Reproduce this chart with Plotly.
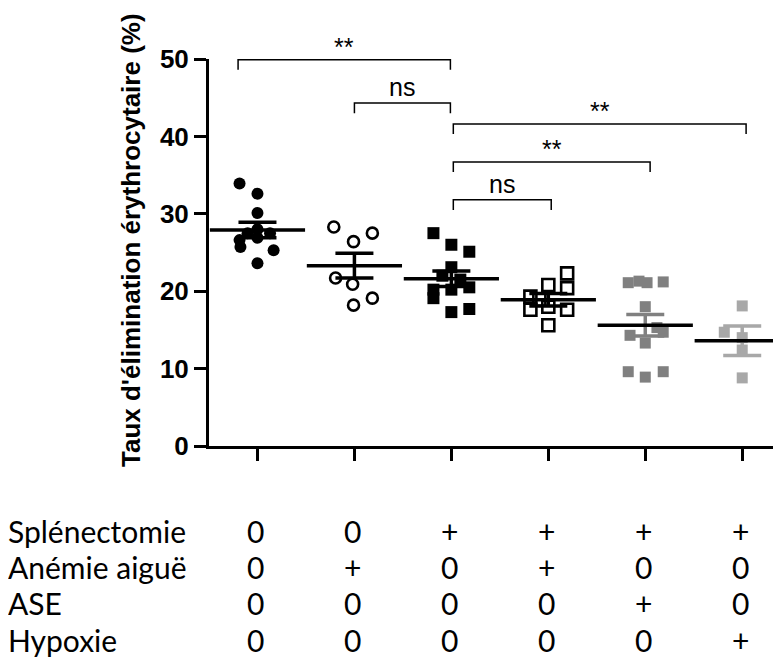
import plotly.graph_objects as go

# ---------------- data ----------------
groups = [1, 2, 3, 4, 5, 6]

g1_vals = [33.9, 32.6, 30.1, 28.0, 27.5, 27.5, 26.9, 26.6, 25.7, 25.3, 23.6]
g1_off = [-1.0, 0.0, 0.0, 0.0, -0.55, 0.7, 0.0, -1.0, -0.95, 0.9, 0.0]

g2_vals = [28.3, 27.5, 26.4, 21.7, 20.9, 19.1, 18.2]
g2_off = [-1.15, 1.0, -0.05, -1.05, -0.1, 1.0, -0.05]

g3_vals = [27.5, 26.0, 25.1, 23.1, 22.0, 21.5, 20.5, 20.2, 20.2, 19.1, 17.7, 17.3]
g3_off = [-1.0, 0.0, 1.0, 0.0, -0.5, 0.5, 1.0, 0.0, -1.0, -1.0, 1.0, 0.0]

g4_vals = [22.3, 20.8, 20.4, 19.3, 18.9, 18.0, 17.6, 17.6, 15.6]
g4_off = [1.05, 0.0, 1.05, -1.0, -0.5, 0.0, -1.0, 1.05, 0.0]

g5_vals = [21.1, 21.3, 21.1, 21.2, 18.0, 15.3, 14.3, 14.7, 13.3, 9.6, 8.9, 9.6]
g5_off = [-0.95, -0.35, 0.1, 1.0, 0.0, 0.65, -0.85, 1.0, 0.0, -0.95, 0.0, 1.0]

g6_vals = [18.1, 14.7, 14.0, 12.4, 8.8]
g6_off = [0.0, -1.0, 0.0, 0.0, 0.0]

means = [27.9, 23.3, 21.6, 18.9, 15.6, 13.6]
sems = [1.0, 1.6, 1.0, 0.8, 1.4, 1.9]

# significance brackets: (x_left, x_right, level, label)
bracket_left = [0.8, 2.0, 3.02, 3.02, 3.02]
bracket_right = [2.99, 2.99, 6.04, 5.05, 4.03]
bracket_level = [49.9, 44.3, 41.6, 36.7, 31.8]
bracket_label = ["**", "ns", "**", "**", "ns"]

row_labels = ["Splénectomie", "Anémie aiguë", "ASE", "Hypoxie"]
table_rows = [
    ["0", "0", "+", "+", "+", "+"],
    ["0", "+", "0", "+", "0", "0"],
    ["0", "0", "0", "0", "+", "0"],
    ["0", "0", "0", "0", "0", "+"],
]

y_ticks = [0, 10, 20, 30, 40, 50]
y_title = "Taux d'élimination érythrocytaire (%)"

# ---------------- styling ----------------
JIT = 0.185
Y_RANGE = [0, 50]
X_RANGE = [0.5, 6.4]
GRAY5 = "#808080"
GRAY6 = "#a8a8a8"

series = [
    (g1_vals, g1_off, dict(symbol="circle", size=12, color="black"), "black"),
    (g2_vals, g2_off, dict(symbol="circle-open", size=11, color="black", line=dict(width=2.6, color="black")), "black"),
    (g3_vals, g3_off, dict(symbol="square", size=12, color="black"), "black"),
    (g4_vals, g4_off, dict(symbol="square-open", size=12, color="black", line=dict(width=2.6, color="black")), "black"),
    (g5_vals, g5_off, dict(symbol="square", size=11, color=GRAY5), GRAY5),
    (g6_vals, g6_off, dict(symbol="square", size=11, color=GRAY6), GRAY6),
]

fig = go.Figure()

for g, (vals, offs, mk, col) in zip(groups, series):
    fig.add_trace(go.Scatter(
        x=[g + o * JIT for o in offs], y=vals, mode="markers",
        marker=mk, showlegend=False, cliponaxis=False, hoverinfo="y"))

for g, m, s, (_, _, _, col) in zip(groups, means, sems, series):
    fig.add_trace(go.Scatter(
        x=[g], y=[m], mode="markers",
        marker=dict(symbol="line-ew", size=1, color=col, line=dict(width=0, color=col)),
        error_y=dict(type="data", array=[s], visible=True, color=col, thickness=3.5, width=19),
        showlegend=False, hoverinfo="skip", cliponaxis=False))
    fig.add_trace(go.Scatter(
        x=[g], y=[m], mode="markers",
        marker=dict(symbol="line-ew", size=68, color="black", line=dict(width=3.5, color="black")),
        showlegend=False, hoverinfo="y", cliponaxis=False))


def to_paper(v):
    return (v - Y_RANGE[0]) / (Y_RANGE[1] - Y_RANGE[0])


DROP = 1.3
for xl, xr, lv, lab in zip(bracket_left, bracket_right, bracket_level, bracket_label):
    top = to_paper(lv)
    bot = to_paper(lv - DROP)
    fig.add_shape(type="path", xref="x", yref="paper",
                  path=f"M {xl},{bot} L {xl},{top} L {xr},{top} L {xr},{bot}",
                  line=dict(color="black", width=1.5))
    fig.add_annotation(x=(xl + xr) / 2, y=lv, xref="x", yref="y", text=lab,
                       showarrow=False, yanchor="middle", yshift=16 if lab == "ns" else 13,
                       font=dict(family="Liberation Sans, Arial", size=25, color="black"))

# table below axis
row_y = [-0.2196, -0.3127, -0.4057, -0.5013]
for lab, ry, vals in zip(row_labels, row_y, table_rows):
    fig.add_annotation(x=(7 - 209) / 572, y=ry, xref="paper", yref="paper", text=lab,
                       showarrow=False, xanchor="left", yanchor="middle", borderpad=0,
                       font=dict(family="Lato, Open Sans", size=30, color="black"))
    for g, v in zip(groups, vals):
        fig.add_annotation(x=g, y=ry, xref="x", yref="paper", text=v, xshift=-2,
                           showarrow=False, xanchor="center", yanchor="middle",
                           font=dict(family="Lato, Open Sans", size=30, color="black"))

fig.add_annotation(x=(131 - 209) / 572, y=(446 - 240) / 387, xref="paper", yref="paper",
                   text=f"<b>{y_title}</b>", textangle=-90, showarrow=False,
                   xanchor="center", yanchor="middle",
                   font=dict(family="Liberation Sans, Arial", size=26, color="black"))

fig.update_layout(
    width=781, height=672,
    margin=dict(l=201, r=8, t=51, b=234),
    plot_bgcolor="white", paper_bgcolor="white",
    xaxis=dict(range=X_RANGE, tickvals=groups, ticktext=[""] * 6, ticks="outside",
               ticklen=12, tickwidth=3, tickcolor="black", showline=True, linewidth=3,
               linecolor="black", showgrid=False, zeroline=False, fixedrange=True),
    yaxis=dict(range=Y_RANGE, tickvals=y_ticks, ticktext=[f"<b>{t}</b>" for t in y_ticks],
               ticks="outside", ticklen=12, tickwidth=3, tickcolor="black",
               showline=True, linewidth=3, linecolor="black", showgrid=False,
               zeroline=False, tickfont=dict(family="Liberation Sans, Arial", size=26, color="black")),
)

fig.write_html("out.html")
